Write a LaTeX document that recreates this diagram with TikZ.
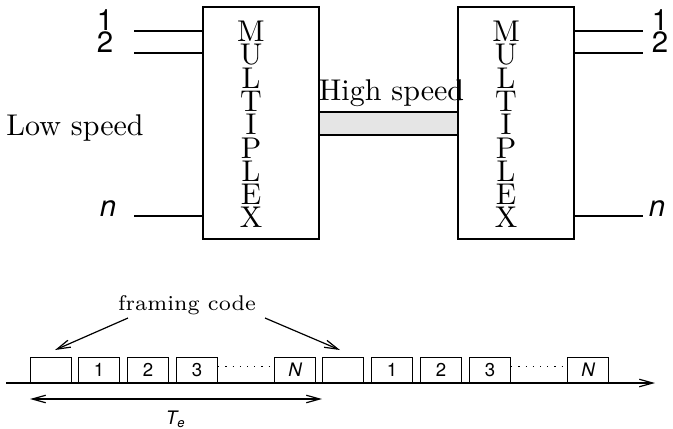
\documentclass[tikz,border=0pt]{standalone}
\usepackage{fontspec}
\newfontfamily\hv{TeX Gyre Heros}
\usetikzlibrary{arrows.meta}
\begin{document}
\begin{tikzpicture}[x=0.3333pt,y=-0.3333pt,
  mux/.style={draw,inner sep=0pt,minimum width=116*0.3333pt,minimum height=232*0.3333pt},
  letters/.style={inner sep=0pt,align=center,font=\fontsize{10}{7.75}\selectfont},
  lab/.style={inner sep=0pt,font=\hv\fontsize{9.8}{11}\selectfont},
  slot/.style={draw,inner sep=0pt,anchor=south west,minimum width=41*0.3333pt,minimum height=25*0.3333pt,font=\hv\fontsize{6.2}{7}\selectfont},
  tip/.style={-{Straight Barb[length=4.5pt,width=2.5pt]}},
  dtip/.style={{Straight Barb[length=4.5pt,width=2.5pt]}-{Straight Barb[length=4.5pt,width=2.5pt]}}]
\useasboundingbox (0,0) rectangle (673,428);
% multiplexers
\node[mux] (m1) at (261,123) {};
\node[mux] (m2) at (516,123) {};
\node[letters] (t1) at (251,124.5) {M\\U\\L\\T\\I\\P\\L\\E\\X};
\node[letters] (t2) at (506,124.5) {M\\U\\L\\T\\I\\P\\L\\E\\X};
% high speed link
\node[draw,fill=gray!20,inner sep=0pt,minimum width=139*0.3333pt,minimum height=23*0.3333pt] (bar) at (388.5,123.5) {};
\node[inner sep=0pt,anchor=base] (hs) at (391.5,100) {High speed};
% low speed inputs
\node[inner sep=0pt,anchor=base] (ls) at (75,135) {Low speed};
\coordinate (a1) at (134,31);
\coordinate (a2) at (134,53);
\coordinate (an) at (134,216);
\draw (a1) -- (a1 -| m1.west);
\draw (a2) -- (a2 -| m1.west);
\draw (an) -- (an -| m1.west);
\node[lab] (l1) at (105,20) {1};
\node[lab] (l2) at (105,42.5) {2};
\node[lab] (ln) at (108,209) {\itshape n};
% outputs
\coordinate (b1) at (643,31);
\coordinate (b2) at (643,53);
\coordinate (bn) at (643,216);
\draw (b1 -| m2.east) -- (b1);
\draw (b2 -| m2.east) -- (b2);
\draw (bn -| m2.east) -- (bn);
\node[lab] (r1) at (660,20) {1};
\node[lab] (r2) at (660,42.5) {2};
\node[lab] (rn) at (657,209) {\itshape n};
% time line
\coordinate (ts) at (6,383);
\coordinate (te) at (655,383);
\draw[tip] (ts) -- (te);
\node[slot] (f1) at (30,383) {};
\node[slot] (s1) at (78,383) {1};
\node[slot] (s2) at (127,383) {2};
\node[slot] (s3) at (176,383) {3};
\node[slot] (sN) at (274,383) {\itshape N};
\node[slot] (f2) at (322,383) {};
\node[slot] (u1) at (371,383) {1};
\node[slot] (u2) at (420,383) {2};
\node[slot] (u3) at (469,383) {3};
\node[slot] (uN) at (567,383) {\itshape N};
\draw[dotted] ([yshift=1.1pt]s3.east) -- ([yshift=1.1pt]sN.west);
\draw[dotted] ([yshift=1.1pt]u3.east) -- ([yshift=1.1pt]uN.west);
% framing code
\node[inner sep=0pt,font=\fontsize{7.1}{8.5}\selectfont] (fc) at (187,305) {framing code};
\coordinate (fa) at (128,318);
\coordinate (fb) at (265,318);
\coordinate (fa2) at (55,350);
\coordinate (fb2) at (340,350);
\draw[tip] (fa) -- (fa2);
\draw[tip] (fb) -- (fb2);
% period
\draw[dtip] ([yshift=-5.33pt]f1.south west) -- ([yshift=-5.33pt]f2.south west);
\node[inner sep=0pt,font=\hv\fontsize{6.2}{7}\selectfont] (Te) at (176,419) {\itshape T\textsubscript{e}};
\end{tikzpicture}
\end{document}
